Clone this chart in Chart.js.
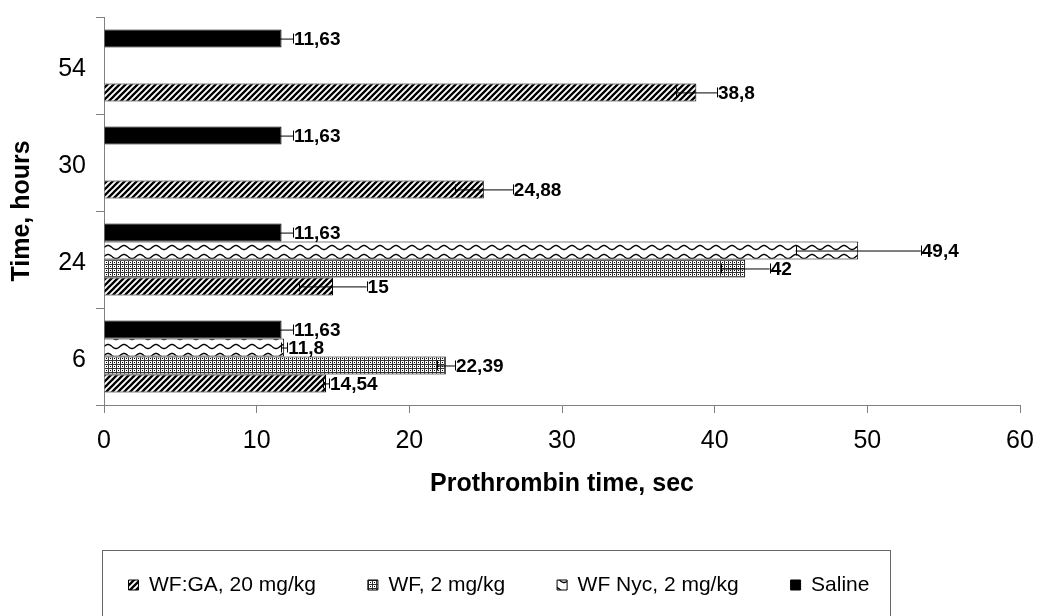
<!DOCTYPE html>
<html>
<head>
<meta charset="utf-8">
<title>Prothrombin time</title>
<script src="https://cdn.jsdelivr.net/npm/chart.js"></script>
<style>
  body { margin: 0; background: #fff; }
  canvas { display: block; }
</style>
</head>
<body>
<canvas id="chart" width="1038" height="616"></canvas>
<script>
// categories listed top to bottom, as on the picture
const hours = ['54', '30', '24', '6'];

const wfGa = [38.8, 24.88, 15, 14.54];
const wf = [null, null, 42, 22.39];
const wfNyc = [null, null, 49.4, 11.8];
const saline = [11.63, 11.63, 11.63, 11.63];

// error bar half widths
const wfGaErr = [1.35, 1.9, 2.2, 0.2];
const wfErr = [null, null, 1.6, 0.6];
const wfNycErr = [null, null, 4.1, 0.2];
const salineErr = [0.75, 0.75, 0.75, 0.75];

const xMin = 0;
const xMax = 60;
const xStep = 10;

const FONT = "'Liberation Sans', Arial, sans-serif";
const AXIS_GRAY = '#808080';

function makeTile(w, h, draw) {
  const c = document.createElement('canvas');
  c.width = w;
  c.height = h;
  const g = c.getContext('2d');
  g.fillStyle = '#fff';
  g.fillRect(0, 0, w, h);
  draw(g, w, h);
  return document.getElementById('chart').getContext('2d').createPattern(c, 'repeat');
}

// wide upward diagonal
const diagPattern = makeTile(6, 6, (g, s) => {
  g.strokeStyle = '#000';
  g.lineWidth = 2.3;
  g.beginPath();
  g.moveTo(0, s); g.lineTo(s, 0);
  g.moveTo(-1, 1); g.lineTo(1, -1);
  g.moveTo(s - 1, s + 1); g.lineTo(s + 1, s - 1);
  g.stroke();
});

// small dotted grid
const dotPattern = makeTile(4, 4, (g) => {
  g.fillStyle = '#333';
  g.fillRect(0, 0, 4, 1);
  g.fillRect(0, 0, 1, 4);
  g.fillStyle = '#000';
  g.fillRect(2, 2, 1, 1);
});

// wave
const wavePattern = makeTile(16, 9, (g, w, h) => {
  g.strokeStyle = '#000';
  g.lineWidth = 1.4;
  g.beginPath();
  for (let x = 0; x <= w; x += 0.5) {
    const y = 4.5 + 2 * Math.sin(2 * Math.PI * x / w);
    if (x === 0) g.moveTo(x, y); else g.lineTo(x, y);
  }
  g.stroke();
});

const errors = [salineErr, wfNycErr, wfErr, wfGaErr];

const errorBarsAndLabels = {
  id: 'errorBarsAndLabels',
  afterDatasetsDraw(chart) {
    const ctx = chart.ctx;
    const xs = chart.scales.x;
    ctx.save();
    chart.data.datasets.forEach((ds, di) => {
      const meta = chart.getDatasetMeta(di);
      ds.data.forEach((v, i) => {
        if (v == null) return;
        const err = errors[di][i] || 0;
        const y = meta.data[i].y;
        const x0 = xs.getPixelForValue(v - err);
        const x1 = xs.getPixelForValue(v + err);
        ctx.strokeStyle = '#000';
        ctx.lineWidth = 1;
        ctx.beginPath();
        ctx.moveTo(x0, y + 0.5); ctx.lineTo(x1, y + 0.5);
        ctx.moveTo(Math.round(x0) + 0.5, y - 5); ctx.lineTo(Math.round(x0) + 0.5, y + 5);
        ctx.moveTo(Math.round(x1) + 0.5, y - 5); ctx.lineTo(Math.round(x1) + 0.5, y + 5);
        ctx.stroke();

        ctx.fillStyle = '#000';
        ctx.font = 'bold 19px ' + FONT;
        ctx.textAlign = 'left';
        ctx.textBaseline = 'middle';
        ctx.fillText(String(v).replace('.', ','), x1 + 1, y + 1);
      });
    });
    ctx.restore();
  }
};

const legendFrame = {
  id: 'legendFrame',
  afterLayout(chart) {
    // the legend row sits a bit left of centre in the original
    const lg = chart.legend;
    lg.left -= 11;
    lg.right -= 11;
  },
  afterDraw(chart) {
    const ctx = chart.ctx;
    ctx.save();
    ctx.strokeStyle = '#666';
    ctx.lineWidth = 1;
    ctx.strokeRect(102.5, 550.5, 788, 100);
    ctx.restore();
  }
};

new Chart(document.getElementById('chart'), {
  type: 'bar',
  data: {
    labels: hours,
    datasets: [
      { label: 'Saline', data: saline, backgroundColor: '#000', borderColor: '#000', borderWidth: 1 },
      { label: 'WF Nyc, 2 mg/kg', data: wfNyc, backgroundColor: wavePattern, borderColor: '#000', borderWidth: 1 },
      { label: 'WF, 2 mg/kg', data: wf, backgroundColor: dotPattern, borderColor: '#000', borderWidth: 1 },
      { label: 'WF:GA, 20 mg/kg', data: wfGa, backgroundColor: diagPattern, borderColor: '#000', borderWidth: 1 }
    ]
  },
  options: {
    indexAxis: 'y',
    responsive: false,
    animation: false,
    layout: { padding: { top: 17, right: 18, bottom: 10.5, left: 0 } },
    datasets: { bar: { categoryPercentage: 0.74, barPercentage: 1 } },
    scales: {
      x: {
        min: xMin,
        max: xMax,
        ticks: { stepSize: xStep, color: '#000', padding: 13, font: { family: FONT, size: 25 } },
        grid: { drawOnChartArea: false, color: AXIS_GRAY, tickLength: 8 },
        border: { color: AXIS_GRAY },
        title: {
          display: true,
          text: 'Prothrombin time, sec',
          color: '#000',
          font: { family: FONT, size: 25, weight: 'bold' },
          padding: { top: 0, bottom: 23 }
        },
        afterFit(s) {
          s.height = 117.5;
          s.paddingLeft = 0;
          s.paddingRight = 0;
        }
      },
      y: {
        ticks: { color: '#000', padding: 10, labelOffset: 4, font: { family: FONT, size: 25 } },
        grid: { drawOnChartArea: false, color: AXIS_GRAY, tickLength: 8 },
        border: { color: AXIS_GRAY },
        title: {
          display: true,
          text: 'Time, hours',
          color: '#000',
          font: { family: FONT, size: 25, weight: 'bold' },
          padding: { top: 7, bottom: 0 }
        },
        afterFit(s) {
          s.width = 104;
          s.paddingTop = 0;
          s.paddingBottom = 0;
        }
      }
    },
    plugins: {
      legend: {
        position: 'bottom',
        reverse: true,
        labels: {
          boxWidth: 10,
          boxHeight: 10,
          padding: 52,
          color: '#000',
          font: { family: FONT, size: 21 }
        }
      },
      tooltip: { enabled: false }
    }
  },
  plugins: [errorBarsAndLabels, legendFrame]
});
</script>
</body>
</html>
